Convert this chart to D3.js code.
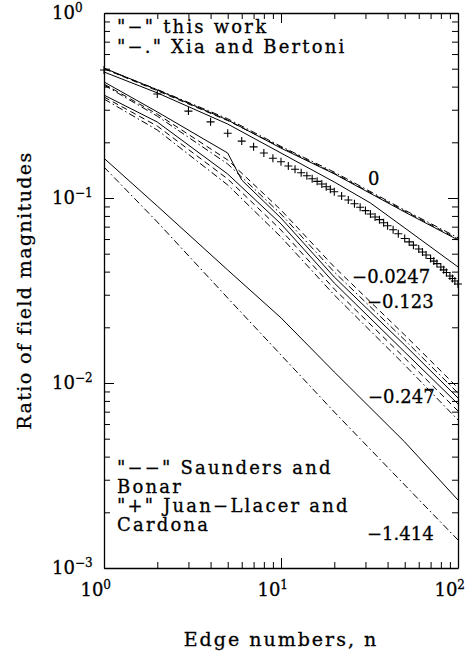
<!DOCTYPE html>
<html>
<head>
<meta charset="utf-8">
<script src="https://cdn.jsdelivr.net/npm/d3@7"></script>
<style>
  body { margin: 0; background: #fff; }
  text { font-family: "DejaVu Serif", serif; fill: #000; stroke: #000; stroke-width: 0.3; }
</style>
</head>
<body>
<div id="chart"></div>
<script>
// edge numbers where curves were read
var nPts = [1, 2, 5, 10, 20, 50, 100]
var nKink = [1, 2, 5, 6, 10, 20, 50, 100]
var nZero247 = [1, 2, 5, 10, 20, 32, 50, 100]

// Ratio of field magnitudes
var zeroSolid = [0.504, 0.384, 0.264, 0.186, 0.135, 0.084, 0.0593]
var zeroDash = [0.500, 0.380, 0.262, 0.188, 0.136, 0.085, 0.060]
var zeroDashDot = [0.500, 0.386, 0.268, 0.190, 0.138, 0.086, 0.061]
var m0247Solid = [0.480, 0.370, 0.251, 0.175, 0.122, 0.094, 0.0689, 0.0424]
var m123Solid = [0.424, 0.292, 0.175, 0.125, 0.0779, 0.0374, 0.01605, 0.0083]
var m123Dash = [0.413, 0.284, 0.1605, 0.0861, 0.0424, 0.01817, 0.0094]
var m123DashDot = [0.408, 0.277, 0.1527, 0.0819, 0.0398, 0.01708, 0.00883]
var m247Solid = [0.360, 0.2575, 0.1348, 0.0724, 0.0347, 0.01471, 0.0077]
var m247Dash = [0.3515, 0.2449, 0.1267, 0.0671, 0.0322, 0.01365, 0.00706]
var m247DashDot = [0.3428, 0.2331, 0.1176, 0.0615, 0.0299, 0.01251, 0.00631]
var m1414Solid = [0.164, 0.0905, 0.0408, 0.0225, 0.01147, 0.0048, 0.00233]
var m1414DashDot = [0.147, 0.0742, 0.0288, 0.01417, 0.00697, 0.00281, 0.001417]

// Juan-Llacer and Cardona, "+" markers
var jlN = [1,2,3,4,5,6,7,8,9,10,11,12,13,14,15,16,17,18,19,20,22,24,26,28,30,32,34,36,38,40,
  43,46,50,53,56,60,63,66,70,73,76,80,83,86,90,93,96,100]
var jlV = [0.492,0.365,0.295,0.258,0.224,0.203,0.189,0.175,0.164,0.157,0.149,0.143,0.137,0.132,
  0.127,0.123,0.119,0.115,0.1115,0.108,0.1025,0.0975,0.0931,0.0891,0.0855,0.082,0.079,0.0764,
  0.0735,0.0708,0.0673,0.0641,0.0604,0.0579,0.0556,0.053,0.0511,0.0492,0.0471,0.0456,0.0442,
  0.0424,0.0409,0.0396,0.0379,0.0367,0.0356,0.0343]

// curve labels: text and where each starts (n, ratio at the baseline)
var curveLabels = ["0", "\u22120.0247", "\u22120.123", "\u22120.247", "\u22121.414"]
var curveLabelAt = [[31, 0.1175], [25.2, 0.0347], [30.6, 0.0254], [31, 0.0078], [30.6, 0.00142]]

var series = [
  {n: nPts, v: zeroSolid, dash: null},
  {n: nPts, v: zeroDash, dash: "6,4"},
  {n: nPts, v: zeroDashDot, dash: "7,3,1.5,3"},
  {n: nZero247, v: m0247Solid, dash: null},
  {n: nKink, v: m123Solid, dash: null},
  {n: nPts, v: m123Dash, dash: "6,4"},
  {n: nPts, v: m123DashDot, dash: "7,3,1.5,3"},
  {n: nPts, v: m247Solid, dash: null},
  {n: nPts, v: m247Dash, dash: "6,4"},
  {n: nPts, v: m247DashDot, dash: "7,3,1.5,3"},
  {n: nPts, v: m1414Solid, dash: null},
  {n: nPts, v: m1414DashDot, dash: "7,3,1.5,3"}
]

var width = 468, height = 658
var pLeft = 104, pRight = 458, pTop = 13, pBottom = 568

var svg = d3.select("#chart").append("svg")
  .attr("width", width)
  .attr("height", height)

var x = d3.scaleLog().domain([1, 100]).range([pLeft, pRight])
var y = d3.scaleLog().domain([1e-3, 1]).range([pBottom, pTop])

function isMajor(d) {
  var l = Math.log10(d)
  return Math.abs(l - Math.round(l)) < 1e-9
}

// frame with inward ticks on all four sides
function styleTicks(g, sign, vertical) {
  g.select(".domain").attr("stroke-width", 1.3)
  g.selectAll(".tick line")
    .attr("stroke-width", 1)
    .each(function(d) {
      var len = isMajor(d) ? 10 : 6
      if (vertical) d3.select(this).attr("x2", sign * len)
      else d3.select(this).attr("y2", sign * len)
    })
}

var xt = x.ticks()
var yt = y.ticks()

svg.append("g").attr("transform", "translate(0," + pBottom + ")")
  .call(d3.axisBottom(x).tickValues(xt).tickFormat("").tickSizeOuter(0))
  .call(styleTicks, -1, false)
svg.append("g").attr("transform", "translate(0," + pTop + ")")
  .call(d3.axisTop(x).tickValues(xt).tickFormat("").tickSizeOuter(0))
  .call(styleTicks, 1, false)
svg.append("g").attr("transform", "translate(" + pLeft + ",0)")
  .call(d3.axisLeft(y).tickValues(yt).tickFormat("").tickSizeOuter(0))
  .call(styleTicks, 1, true)
svg.append("g").attr("transform", "translate(" + pRight + ",0)")
  .call(d3.axisRight(y).tickValues(yt).tickFormat("").tickSizeOuter(0))
  .call(styleTicks, -1, true)

// tick labels as 10^k
var xMajor = xt.filter(isMajor)
var yMajor = yt.filter(isMajor)

xMajor.forEach(function(d) {
  var t = svg.append("text")
    .attr("x", x(d) + 7)
    .attr("y", pBottom + 28)
    .attr("text-anchor", "end")
    .attr("font-size", 18)
  t.append("tspan").text("10")
  t.append("tspan").attr("dy", -7).attr("font-size", 12).text(Math.round(Math.log10(d)))
})

yMajor.forEach(function(d) {
  var k = Math.round(Math.log10(d))
  var t = svg.append("text")
    .attr("x", 52)
    .attr("y", y(d) + 6)
    .attr("font-size", 18)
  t.append("tspan").text("10")
  t.append("tspan").attr("dy", -7).attr("font-size", 12).text(k < 0 ? "\u2212" + (-k) : k)
})

// curves
var line = d3.line()
  .x(function(d) { return x(d[0]) })
  .y(function(d) { return y(d[1]) })

var plot = svg.append("g")
series.forEach(function(s) {
  plot.append("path")
    .datum(d3.zip(s.n, s.v))
    .attr("fill", "none")
    .attr("stroke", "#000")
    .attr("stroke-width", 1)
    .attr("stroke-dasharray", s.dash)
    .attr("d", line)
})

var jl = d3.zip(jlN, jlV)
plot.selectAll(".plus")
  .data(jl)
  .enter()
  .append("path")
  .attr("class", "plus")
  .attr("fill", "none")
  .attr("stroke", "#000")
  .attr("stroke-width", 1.1)
  .attr("d", function(d) {
    var cx = x(d[0]), cy = y(d[1]), r = 4
    return "M" + (cx - r) + "," + cy + "H" + (cx + r) + "M" + cx + "," + (cy - r) + "V" + (cy + r)
  })

// curve labels
curveLabels.forEach(function(lbl, i) {
  svg.append("text")
    .attr("x", x(curveLabelAt[i][0]))
    .attr("y", y(curveLabelAt[i][1]))
    .attr("font-size", 18)
    .text(lbl)
})

// legend text
var legendTop = ["\"\u2212\" this work", "\"\u2212.\" Xia and Bertoni"]
var legendTopY = [33, 53]
legendTop.forEach(function(t, i) {
  svg.append("text").attr("x", 117).attr("y", legendTopY[i])
    .attr("font-size", 18).attr("letter-spacing", 2.2).text(t)
})
var legendBottom = ["\"\u2212\u2212\" Saunders and", "Bonar", "\"+\" Juan\u2212Llacer and", "Cardona"]
var legendBottomY = [474, 493, 512, 531]
legendBottom.forEach(function(t, i) {
  svg.append("text").attr("x", 117).attr("y", legendBottomY[i])
    .attr("font-size", 18).attr("letter-spacing", 2.2).text(t)
})

// axis titles
svg.append("text")
  .attr("x", (pLeft + pRight) / 2)
  .attr("y", 646)
  .attr("text-anchor", "middle")
  .attr("font-size", 19)
  .attr("letter-spacing", 2)
  .text("Edge numbers, n")

svg.append("text")
  .attr("transform", "translate(31," + (pTop + pBottom) / 2 + ") rotate(-90)")
  .attr("text-anchor", "middle")
  .attr("font-size", 19)
  .attr("letter-spacing", 1.4)
  .text("Ratio of field magnitudes")
</script>
</body>
</html>
